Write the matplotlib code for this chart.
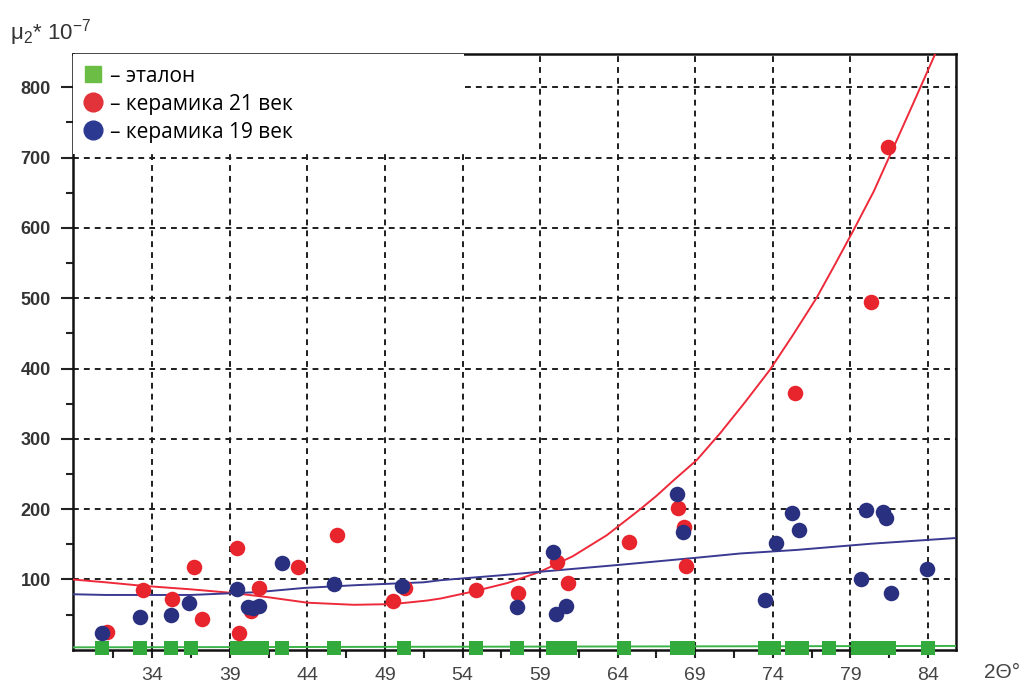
import matplotlib
matplotlib.use("Agg")
import matplotlib.pyplot as plt
from matplotlib.lines import Line2D

plt.rcParams["mathtext.fontset"] = "custom"
plt.rcParams["mathtext.rm"] = "Liberation Sans"
plt.rcParams["mathtext.it"] = "Liberation Sans:italic"
plt.rcParams["mathtext.bf"] = "Liberation Sans:bold"

# ---------------- data ----------------
red_x = [31.1, 33.4, 35.3, 36.7, 37.2, 39.5, 39.6, 40.4, 40.9, 43.4, 45.9, 49.5, 50.3,
         54.9, 57.6, 60.1, 60.8, 64.7, 67.9, 68.3, 68.4, 75.4, 80.3, 81.4]
red_y = [25, 85, 72, 118, 44, 145, 24, 55, 88, 118, 163, 69, 88,
         85, 81, 125, 95, 153, 201, 175, 119, 365, 495, 715]

blue_x = [30.8, 33.2, 35.2, 36.4, 39.5, 40.2, 40.5, 40.9, 42.4, 45.7, 50.1, 57.5, 59.8,
          60.0, 60.7, 67.8, 68.2, 73.5, 74.2, 75.2, 75.7, 79.7, 80.0, 81.1, 81.3, 81.6, 83.9]
blue_y = [24, 47, 50, 66, 86, 61, 60, 63, 123, 94, 91, 61, 139,
          51, 62, 222, 167, 71, 152, 195, 171, 101, 199, 196, 187, 81, 115]

green_x = [30.8, 33.2, 35.2, 36.5, 39.5, 40.1, 40.6, 41.1, 42.4, 45.7, 50.2, 54.9, 57.5,
           59.8, 60.3, 60.9, 64.4, 67.8, 68.5, 73.5, 74.1, 75.2, 75.9, 77.6, 79.5, 80.0,
           80.9, 81.5, 84.0]
green_y = [3, 3, 3, 3, 3, 3, 3, 3, 3, 3, 3, 3, 3,
           3, 3, 3, 3, 3, 3, 3, 3, 3, 3, 3, 3, 3,
           3, 3, 3]

# trend curves
red_fit_x = [28.9, 31.0, 33.4, 36.5, 39.1, 41.4, 44.0, 47.0, 49.5, 51.7, 52.6, 54.7, 56.9,
             59.0, 61.1, 63.3, 65.4, 66.5, 67.6, 69.1, 70.6, 72.2, 73.8, 75.3, 76.8, 78.0,
             79.2, 80.5, 81.7, 83.0, 84.45]
red_fit_y = [100, 96, 91, 86, 81, 75, 67, 64, 65, 70, 73, 83, 95,
             111, 133, 163, 199, 219, 241, 270, 308, 352, 398, 448, 500, 548,
             597, 652, 711, 775, 847]

blue_fit_x = [28.9, 31.0, 36.5, 40.8, 43.8, 47.2, 51.5, 52.6, 56.5, 59.0, 64.2, 69.1,
              71.9, 75.5, 80.4, 85.8]
blue_fit_y = [79, 78, 78, 82, 88, 92, 96, 99, 106, 111, 121, 131,
              137, 142, 151, 159]

green_fit_x = [28.9, 85.8]
green_fit_y = [3.5, 5.5]

x_major = [34, 39, 44, 49, 54, 59, 64, 69, 74, 79, 84]
x_minor = [31.5, 36.5, 41.5, 46.5, 51.5, 56.5, 61.5, 66.5, 71.5, 76.5, 81.5]
y_major = [100, 200, 300, 400, 500, 600, 700, 800]
y_minor = [50, 150, 250, 350, 450, 550, 650, 750]

labels = ["– эталон", "– керамика 21 век", "– керамика 19 век"]

# ---------------- styling ----------------
RED = "#e8242c"
BLUE = "#29307f"
GREEN = "#33aa3c"
GREEN_LEG = "#6cbd45"

W, H = 1025, 690
fig = plt.figure(figsize=(W / 100, H / 100), dpi=100)
ax_l, ax_r, ax_t, ax_b = 73, 956, 54.3, 649.8
ax = fig.add_axes([ax_l / W, 1 - ax_b / H, (ax_r - ax_l) / W, (ax_b - ax_t) / H])

ax.set_xlim(28.9, 85.8)
ax.set_ylim(0, 847)

# grid
ax.set_xticks(x_major)
ax.set_xticks(x_minor, minor=True)
ax.set_yticks(y_major)
ax.set_yticks(y_minor, minor=True)
ax.grid(True, which="major", color="#1e1e1e", linestyle=(0, (3, 2.6)), linewidth=1.4)
ax.set_axisbelow(True)

# trend lines
ax.plot(green_fit_x, green_fit_y, color="#3cb44a", lw=1.4, zorder=3)
ax.plot(red_fit_x, red_fit_y, color="#ee2a3a", lw=1.4, zorder=3, clip_on=True)
ax.plot(blue_fit_x, blue_fit_y, color="#3a3a92", lw=1.4, zorder=3)

# points
ax.scatter(green_x, green_y, marker="s", s=110, color=GREEN, linewidths=0,
           zorder=4, clip_on=False)
ax.scatter(red_x, red_y, marker="o", s=125, color=RED, linewidths=0, zorder=4)
ax.scatter(blue_x, blue_y, marker="o", s=125, color=BLUE, linewidths=0, zorder=5)

# spines
for sp in ax.spines.values():
    sp.set_linewidth(1.8)
    sp.set_color("#111111")

# ticks
ax.tick_params(axis="x", which="major", direction="inout", length=11, width=1.5,
               color="#222", pad=7, labelsize=14, labelcolor="#444")
ax.tick_params(axis="x", which="minor", direction="out", length=6, width=1.5, color="#222")
ax.tick_params(axis="y", which="major", direction="out", length=9, width=1.5,
               color="#222", pad=7, labelsize=13, labelcolor="#333")
ax.tick_params(axis="y", which="minor", direction="out", length=5, width=1.5, color="#222")
for lab in ax.get_xticklabels():
    lab.set_family(["Liberation Sans", "DejaVu Sans"])
for lab in ax.get_yticklabels():
    lab.set_family(["Liberation Sans", "DejaVu Sans"])
    lab.set_fontweight("bold")

# legend
handles = [
    Line2D([], [], marker="s", linestyle="none", markersize=12, color=GREEN_LEG),
    Line2D([], [], marker="o", linestyle="none", markersize=13.5, color="#e2323a"),
    Line2D([], [], marker="o", linestyle="none", markersize=13.5, color="#2b3990"),
]
leg = ax.legend(handles, labels, loc="upper left",
                bbox_to_anchor=(0, 0.0, (464 - ax_l) / (ax_r - ax_l), 1.0),
                mode="expand", borderaxespad=0.0, frameon=True, fancybox=False,
                framealpha=1, edgecolor="none", facecolor="white",
                prop={"family": ["Open Sans", "DejaVu Sans"], "size": 15},
                handlelength=0.8, handletextpad=0.45, labelspacing=0.33,
                borderpad=0.55)
leg.set_zorder(10)

# axis titles
fig.text(10 / W, 1 - 40 / H, "μ$_{2}$* 10$^{-7}$", fontsize=16, color="#333",
         family=["Liberation Sans", "DejaVu Sans"], va="baseline", ha="left")
fig.text(1002 / W, 1 - 673 / H, "2Θ°", fontsize=15, color="#444",
         family=["Liberation Sans", "DejaVu Sans"], va="center", ha="center")

fig.savefig("out.png", dpi=100)
